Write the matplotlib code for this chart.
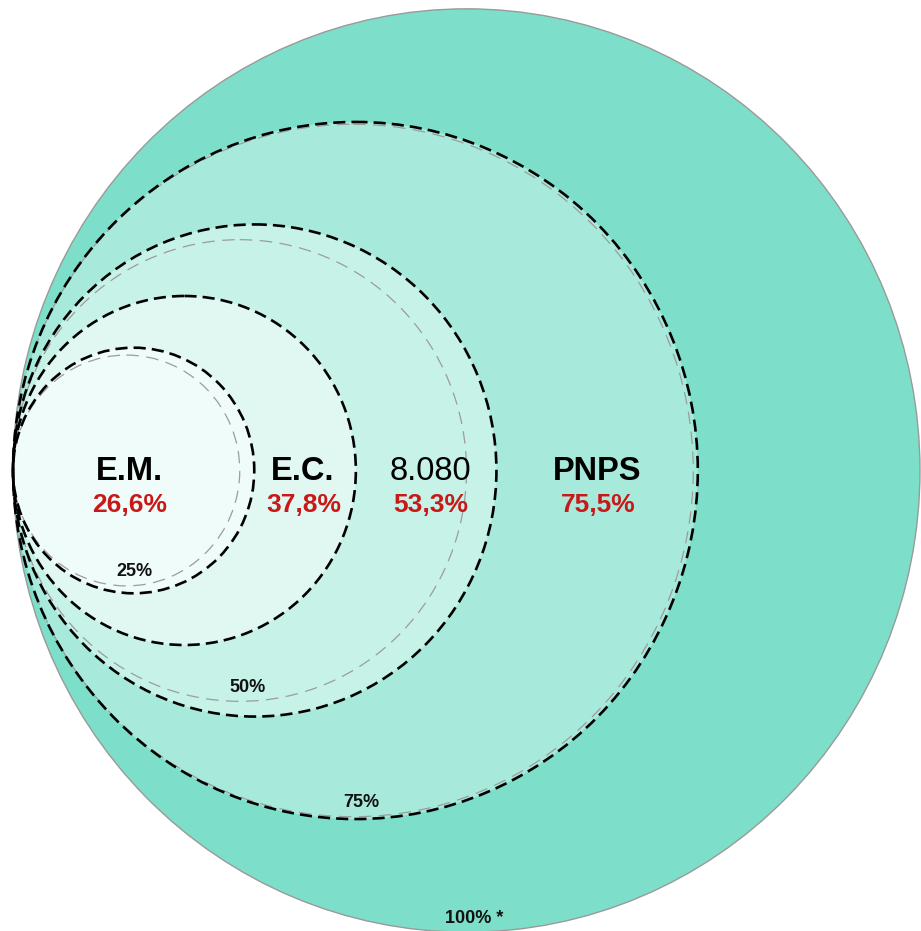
import matplotlib
matplotlib.use("Agg")
import matplotlib.pyplot as plt
from matplotlib.patches import Ellipse

plt.rcParams['font.family'] = ['Liberation Sans', 'DejaVu Sans']

# ---- data ----
names = ["E.M.", "E.C.", "8.080", "PNPS"]
values = [26.6, 37.8, 53.3, 75.5]
value_labels = ["26,6%", "37,8%", "53,3%", "75,5%"]
name_weights = ["bold", "bold", "normal", "bold"]
ref_levels = [25, 50, 75, 100]
ref_labels = ["25%", "50%", "75%", "100% *"]

# ---- styles / layout ----
fill_colors = ["#EFFCF9", "#E1F8F2", "#C6F2E7", "#A7EADB"]
outer_color = "#7DDFC9"
red = "#C81818"
x0, cy = 13.0, 470.5       # common tangent point
R = 453.5                  # radius of 100 %
k = 1.018                  # slight vertical stretch of the original
name_x = [129, 303, 430, 597]

fig = plt.figure(figsize=(9.21, 9.31), dpi=100)
ax = fig.add_axes([0, 0, 1, 1])
ax.set_xlim(0, 921)
ax.set_ylim(931, 0)
ax.axis("off")


def ell(pct, **kw):
    r = R * pct / 100.0
    return Ellipse((x0 + r, cy), 2 * r, 2 * r * k, **kw)


# outer 100% circle
ax.add_patch(ell(100, facecolor=outer_color, edgecolor="#9a9a9a", lw=1.0, zorder=1))

# filled data circles, largest first
order = sorted(range(len(values)), key=lambda i: -values[i])
for z, i in enumerate(order):
    ax.add_patch(ell(values[i], facecolor=fill_colors[i], edgecolor="none", zorder=2 + z))

# grey reference circles
for lv in ref_levels[:-1]:
    ax.add_patch(ell(lv, facecolor="none", edgecolor="#9c9c9c", lw=0.9,
                     linestyle=(0, (10, 6)), zorder=10))

# black dashed data circles
for v in values:
    ax.add_patch(ell(v, facecolor="none", edgecolor="black", lw=1.9,
                     linestyle=(0, (4.6, 2.3)), zorder=11))

# names and percentages
for i in range(len(names)):
    ax.text(name_x[i], cy + 1, names[i], ha="center", va="center", fontsize=23.5,
            fontweight=name_weights[i], color="black", zorder=20)
    ax.text(name_x[i] + 1, cy + 34, value_labels[i], ha="center", va="center",
            fontsize=19, fontweight="bold", color=red, zorder=20)

# reference labels
for lv, lab in zip(ref_levels, ref_labels):
    r = R * lv / 100.0
    ax.text(x0 + r + 8, cy + r * k - 14, lab, ha="center", va="center",
            fontsize=13, fontweight="bold", color="#111111", zorder=20)

fig.savefig("out.png", dpi=100)
